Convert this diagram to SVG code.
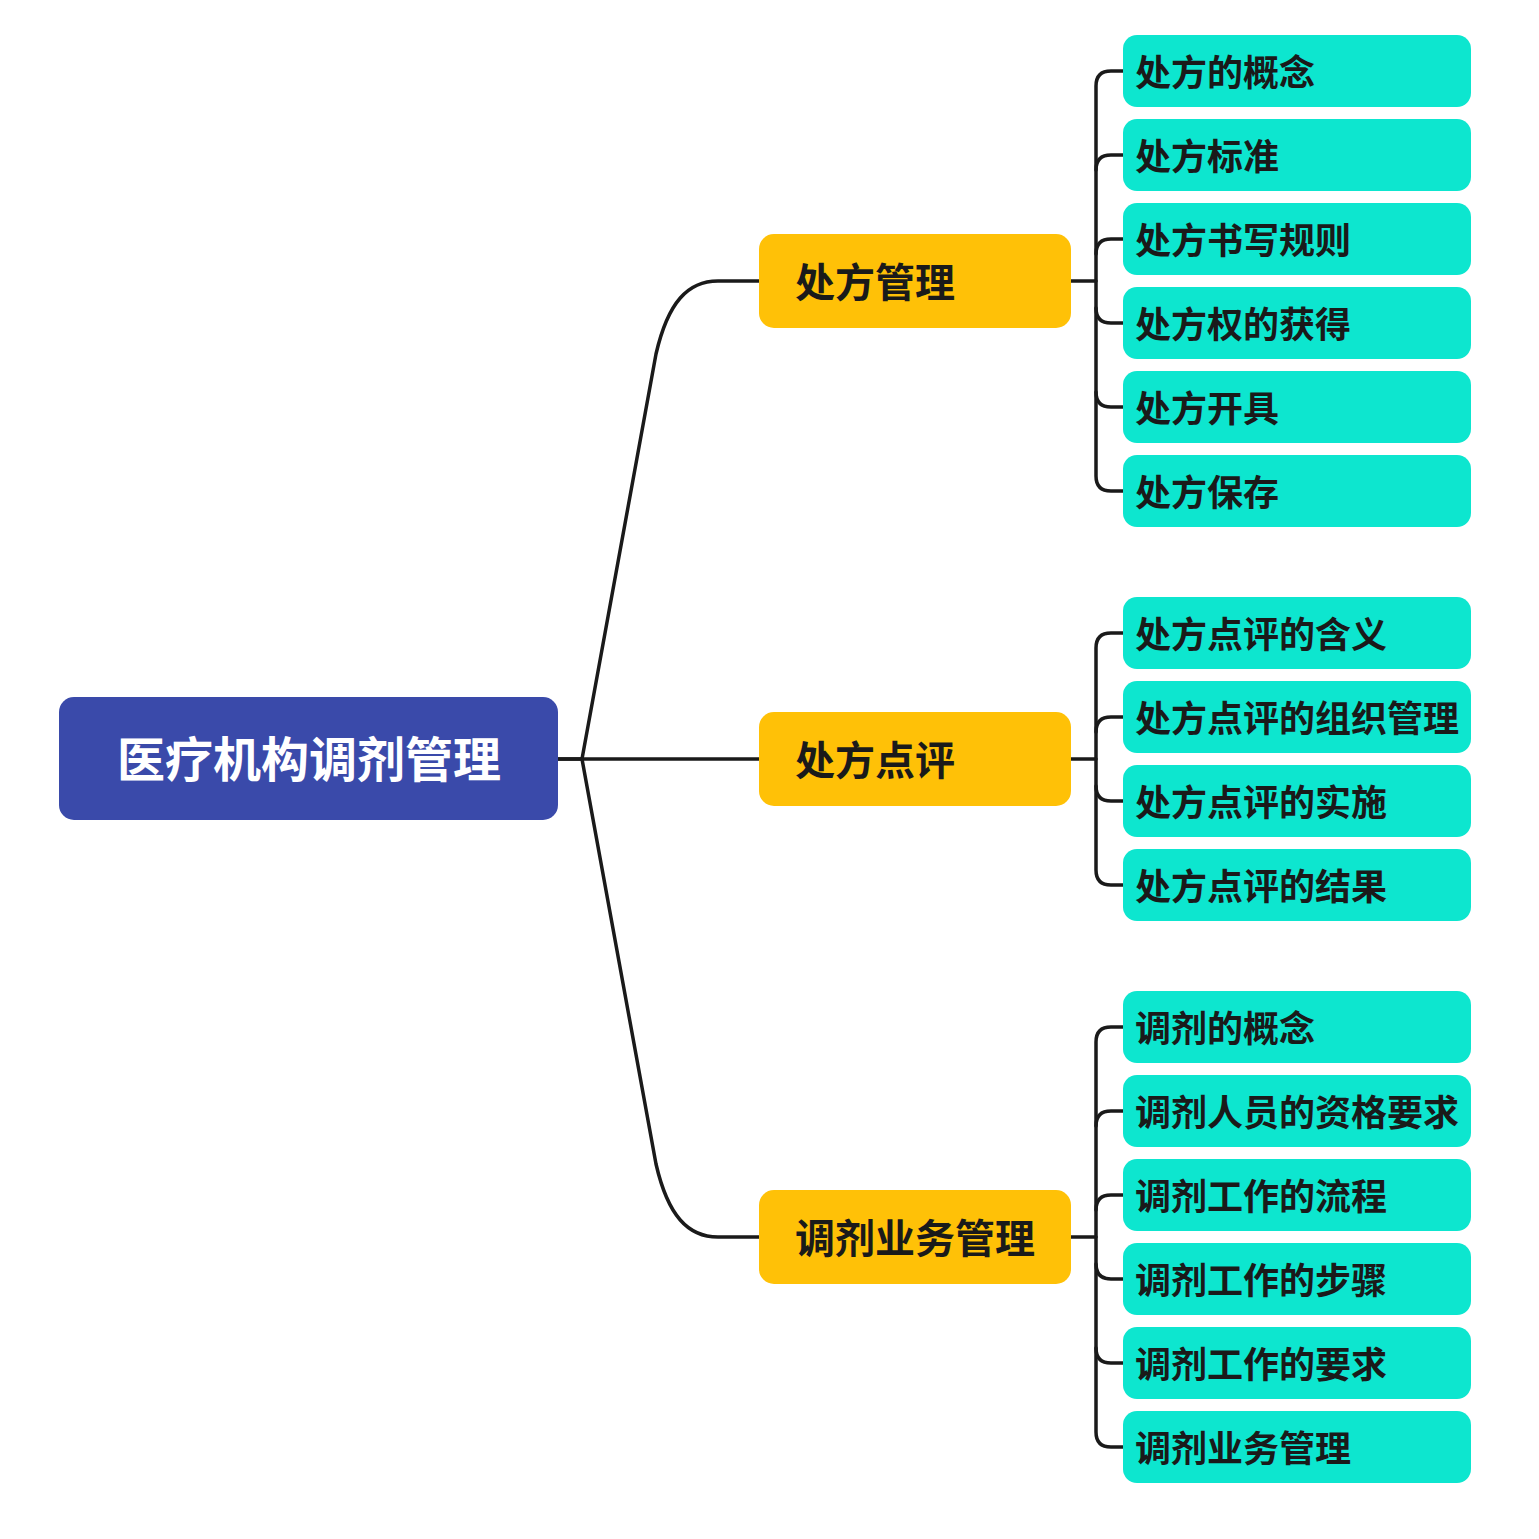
<svg xmlns="http://www.w3.org/2000/svg" width="1539" height="1539" viewBox="0 0 1539 1539">
<style>
.root{fill:#3A4AAA}
.mid{fill:#FFC107}
.leaf{fill:#0DE6CF}
text{font-family:"Noto Sans CJK SC","Noto Sans",sans-serif;font-weight:bold}
.rt{fill:#FFFFFF;font-size:48px}
.mt{fill:#1A1A1A;font-size:40px}
.lt{fill:#1A1A1A;font-size:36px}
.c{fill:none;stroke:#1A1A1A;stroke-width:3.5;stroke-linecap:round;stroke-linejoin:round}
</style>
<rect width="1539" height="1539" fill="#FFFFFF"/>
<g id="connectors">
<path class="c" d="M558,759 L582,759 L656,354 C668,302 688,281 718,281 L759,281"/>
<path class="c" d="M558,759 L759,759"/>
<path class="c" d="M582,759 L656,1164 C668,1216 688,1237 718,1237 L759,1237"/>
<path class="c" d="M1071,281 L1096,281"/>
<path class="c" d="M1123,71 L1111,71 Q1096,71 1096,86 L1096,476 Q1096,491 1111,491 L1123,491"/>
<path class="c" d="M1123,155 L1111,155 Q1096,155 1096,170"/>
<path class="c" d="M1123,239 L1111,239 Q1096,239 1096,254"/>
<path class="c" d="M1123,323 L1111,323 Q1096,323 1096,308"/>
<path class="c" d="M1123,407 L1111,407 Q1096,407 1096,392"/>
<path class="c" d="M1071,759 L1096,759"/>
<path class="c" d="M1123,633 L1111,633 Q1096,633 1096,648 L1096,870 Q1096,885 1111,885 L1123,885"/>
<path class="c" d="M1123,717 L1111,717 Q1096,717 1096,732"/>
<path class="c" d="M1123,801 L1111,801 Q1096,801 1096,786"/>
<path class="c" d="M1071,1237 L1096,1237"/>
<path class="c" d="M1123,1027 L1111,1027 Q1096,1027 1096,1042 L1096,1432 Q1096,1447 1111,1447 L1123,1447"/>
<path class="c" d="M1123,1111 L1111,1111 Q1096,1111 1096,1126"/>
<path class="c" d="M1123,1195 L1111,1195 Q1096,1195 1096,1210"/>
<path class="c" d="M1123,1279 L1111,1279 Q1096,1279 1096,1264"/>
<path class="c" d="M1123,1363 L1111,1363 Q1096,1363 1096,1348"/>
</g>
<g id="root"><rect class="root" x="59" y="697" width="499" height="123" rx="15"/><text class="rt" x="309" y="777" text-anchor="middle">医疗机构调剂管理</text></g>
<g id="m1"><rect class="mid" x="759" y="234" width="312" height="94" rx="15"/><text class="mt" x="795" y="297">处方管理</text></g>
<g id="m2"><rect class="mid" x="759" y="712" width="312" height="94" rx="15"/><text class="mt" x="795" y="775">处方点评</text></g>
<g id="m3"><rect class="mid" x="759" y="1190" width="312" height="94" rx="15"/><text class="mt" x="795" y="1253">调剂业务管理</text></g>
<g id="l1"><rect class="leaf" x="1123" y="35" width="348" height="72" rx="14"/><text class="lt" x="1135" y="86">处方的概念</text></g>
<g id="l2"><rect class="leaf" x="1123" y="119" width="348" height="72" rx="14"/><text class="lt" x="1135" y="170">处方标准</text></g>
<g id="l3"><rect class="leaf" x="1123" y="203" width="348" height="72" rx="14"/><text class="lt" x="1135" y="254">处方书写规则</text></g>
<g id="l4"><rect class="leaf" x="1123" y="287" width="348" height="72" rx="14"/><text class="lt" x="1135" y="338">处方权的获得</text></g>
<g id="l5"><rect class="leaf" x="1123" y="371" width="348" height="72" rx="14"/><text class="lt" x="1135" y="422">处方开具</text></g>
<g id="l6"><rect class="leaf" x="1123" y="455" width="348" height="72" rx="14"/><text class="lt" x="1135" y="506">处方保存</text></g>
<g id="l7"><rect class="leaf" x="1123" y="597" width="348" height="72" rx="14"/><text class="lt" x="1135" y="648">处方点评的含义</text></g>
<g id="l8"><rect class="leaf" x="1123" y="681" width="348" height="72" rx="14"/><text class="lt" x="1135" y="732">处方点评的组织管理</text></g>
<g id="l9"><rect class="leaf" x="1123" y="765" width="348" height="72" rx="14"/><text class="lt" x="1135" y="816">处方点评的实施</text></g>
<g id="l10"><rect class="leaf" x="1123" y="849" width="348" height="72" rx="14"/><text class="lt" x="1135" y="900">处方点评的结果</text></g>
<g id="l11"><rect class="leaf" x="1123" y="991" width="348" height="72" rx="14"/><text class="lt" x="1135" y="1042">调剂的概念</text></g>
<g id="l12"><rect class="leaf" x="1123" y="1075" width="348" height="72" rx="14"/><text class="lt" x="1135" y="1126">调剂人员的资格要求</text></g>
<g id="l13"><rect class="leaf" x="1123" y="1159" width="348" height="72" rx="14"/><text class="lt" x="1135" y="1210">调剂工作的流程</text></g>
<g id="l14"><rect class="leaf" x="1123" y="1243" width="348" height="72" rx="14"/><text class="lt" x="1135" y="1294">调剂工作的步骤</text></g>
<g id="l15"><rect class="leaf" x="1123" y="1327" width="348" height="72" rx="14"/><text class="lt" x="1135" y="1378">调剂工作的要求</text></g>
<g id="l16"><rect class="leaf" x="1123" y="1411" width="348" height="72" rx="14"/><text class="lt" x="1135" y="1462">调剂业务管理</text></g>
</svg>
